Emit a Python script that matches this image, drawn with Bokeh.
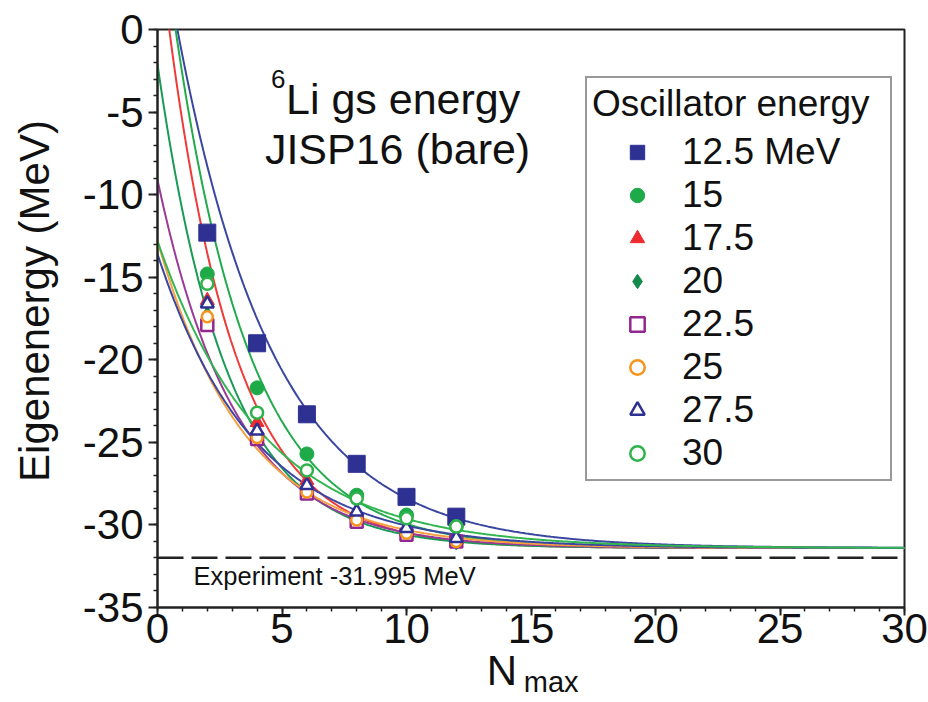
import numpy as np
from bokeh.plotting import figure
from bokeh.models import Legend, LegendItem, Label, Span, FixedTicker, Range1d, LinearAxis
from bokeh.embed import file_html
from bokeh.resources import INLINE

# ---------------- data ----------------
nmax = [2, 4, 6, 8, 10, 12]
hw_labels = ["12.5 MeV", "15", "17.5", "20", "22.5", "25", "27.5", "30"]
e_125 = [-12.3, -19.0, -23.3, -26.3, -28.3, -29.5]
e_150 = [-14.8, -21.7, -25.7, -28.2, -29.4, -30.1]
e_175 = [-16.4, -23.8, -27.3, -29.4, -30.4, -30.9]
e_200 = [-17.3, -24.4, -27.9, -29.6, -30.5, -31.0]
e_225 = [-17.9, -24.8, -28.1, -29.8, -30.6, -31.0]
e_250 = [-17.4, -24.7, -28.0, -29.7, -30.5, -31.0]
e_275 = [-16.6, -24.3, -27.6, -29.2, -30.2, -30.8]
e_300 = [-15.4, -23.2, -26.7, -28.4, -29.6, -30.1]
series = [e_125, e_150, e_175, e_200, e_225, e_250, e_275, e_300]

# exponential extrapolation curves E(N) = E_inf + A*exp(-c*N), parameters
fit_einf = [-31.4, -31.4, -31.4, -31.4, -31.4, -31.4, -31.4, -31.4]
fit_a = [38.5, 39.9, 37.4, 29.3, 22.3, 18.6, 17.8, 18.6]
fit_c = [0.255, 0.33, 0.37, 0.36, 0.318, 0.283, 0.257, 0.235]

e_experiment = -31.995

x_ticks = [0, 5, 10, 15, 20, 25, 30]
x_tick_labels = ["0", "5", "10", "15", "20", "25", "30"]
y_ticks = [0, -5, -10, -15, -20, -25, -30, -35]
y_tick_labels = ["0", "-5", "-10", "-15", "-20", "-25", "-30", "-35"]

# ---------------- styles ----------------
colors = ["#2E3192", "#1FAA4A", "#EE2A2E", "#128A4A", "#92278F", "#F7941D", "#2E3192", "#2EB34B"]
line_colors = ["#3A46A0", "#22AA4D", "#F03A3A", "#1A9A55", "#9A3A96", "#F7A040", "#3A46A0", "#33B550"]
markers = ["square", "circle", "triangle", "diamond", "square", "circle", "triangle", "circle"]
filled = [True, True, True, True, False, False, False, False]
sizes = [17, 14, 14, 17, 12, 11, 13, 12]

FONT = "Liberation Sans"
INK = "#111111"
NB = "\u00a0"

p = figure(width=928, height=702, output_backend="svg", toolbar_location=None,
           x_range=Range1d(0, 30), y_range=Range1d(-35, 0),
           min_border_left=157, min_border_right=24, min_border_top=29, min_border_bottom=95)
p.grid.visible = False
p.outline_line_color = "#222222"
p.outline_line_width = 2
p.background_fill_color = "white"

for ax, ticks, labels, minor, tick_out, standoff in (
        (p.xaxis, x_ticks, x_tick_labels, list(range(0, 31)), 8, -2),
        (p.yaxis, y_ticks, y_tick_labels, list(range(-35, 1)), 9, 5)):
    ax.ticker = FixedTicker(ticks=ticks, minor_ticks=minor)
    ax.major_label_overrides = {t: l for t, l in zip(ticks, labels)}
    ax.axis_line_color = "#222222"
    ax.axis_line_width = 2
    ax.major_tick_line_color = "#222222"
    ax.major_tick_line_width = 2
    ax.minor_tick_line_color = "#222222"
    ax.minor_tick_line_width = 1.5
    ax.major_tick_in = 0
    ax.major_tick_out = tick_out
    ax.minor_tick_in = 0
    ax.minor_tick_out = tick_out // 2
    ax.major_label_text_font = FONT
    ax.major_label_text_font_size = "42px"
    ax.major_label_text_color = INK
    ax.major_label_standoff = standoff
    ax.axis_label_text_font = FONT
    ax.axis_label_text_font_style = "normal"
    ax.axis_label_text_color = INK

p.yaxis.axis_label = NB * 3 + "Eigenenergy (MeV)"
p.yaxis.axis_label_text_font_size = "42px"
p.yaxis.axis_label_standoff = 22

# x-axis title N with subscript "max" on a second, bare axis underneath
p.xaxis.axis_label = "N" + NB * 5
p.xaxis.axis_label_text_font_size = "42px"
p.xaxis.axis_label_standoff = 1

sub_axis = LinearAxis(ticker=FixedTicker(ticks=[]), axis_line_color=None,
                      major_tick_out=0, major_tick_in=0, minor_tick_out=0, minor_tick_in=0,
                      major_label_standoff=0,
                      axis_label=NB * 5 + "max", axis_label_text_font=FONT,
                      axis_label_text_font_size="29px", axis_label_text_font_style="normal",
                      axis_label_text_color=INK, axis_label_standoff=-31)
p.add_layout(sub_axis, "below")

# experiment line
p.add_layout(Span(location=e_experiment, dimension="width", line_color="#222222",
                  line_width=2.5, line_dash="26 8"))

# curves
n_curve = np.linspace(0, 30, 601)
for i in range(8):
    e_curve = fit_einf[i] + fit_a[i] * np.exp(-fit_c[i] * n_curve)
    p.line(n_curve, e_curve, line_color=line_colors[i], line_width=2)

# points
items = []
for i in range(8):
    if filled[i]:
        r = p.scatter(nmax, series[i], marker=markers[i], size=sizes[i],
                      fill_color=colors[i], line_color=colors[i], line_width=1)
    else:
        r = p.scatter(nmax, series[i], marker=markers[i], size=sizes[i],
                      fill_color="white", line_color=colors[i], line_width=2.5)
    items.append(LegendItem(label=hw_labels[i], renderers=[r]))

legend = Legend(items=items, title="Oscillator energy", location=(428, 126),
                label_text_font=FONT, label_text_font_size="37px", label_text_color=INK,
                title_text_font=FONT, title_text_font_size="37px", title_text_font_style="normal",
                title_text_color=INK, title_standoff=5,
                glyph_width=90, glyph_height=36, label_height=43, label_width=203,
                label_standoff=0, spacing=0, padding=5, margin=0,
                border_line_color="#333333", border_line_width=2,
                background_fill_color="white", background_fill_alpha=1)
p.add_layout(legend)


def lab(x, y, text, size, align="left", baseline="alphabetic"):
    p.add_layout(Label(x=x, y=y, text=text, text_font=FONT, text_font_size=size,
                       text_color=INK, text_align=align, text_baseline=baseline))


lab(5.14, -2.97, "6", "26px", align="right")
lab(5.16, -4.18, "Li gs energy", "43px")
lab(9.64, -7.21, "JISP16 (bare)", "43px", align="center")
lab(1.45, -33.07, "Experiment -31.995 MeV", "25.5px")

open("out.html", "w").write(file_html(p, INLINE))
